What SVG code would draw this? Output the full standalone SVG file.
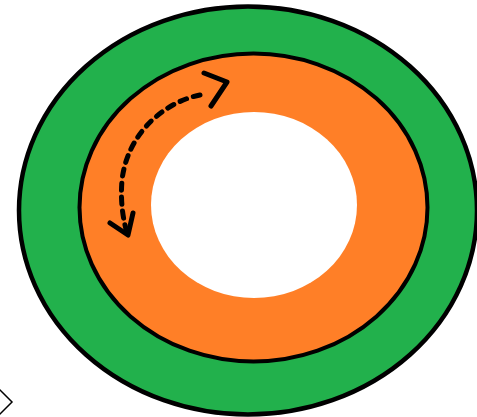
<svg xmlns="http://www.w3.org/2000/svg" width="477" height="417" viewBox="0 0 477 417">
<style>
.ring{stroke:#000;}
.arr{fill:none;stroke:#000;stroke-width:5;stroke-linecap:round;stroke-linejoin:round;}
</style>
<rect width="477" height="417" fill="#fff"/>
<g id="outer"><ellipse cx="248" cy="210.5" rx="229" ry="204" fill="#22b14c" class="ring" stroke-width="4.5"/></g>
<g id="middle"><ellipse cx="253.5" cy="207.5" rx="174" ry="154" fill="#ff7f27" class="ring" stroke-width="4"/></g>
<g id="inner"><ellipse cx="254" cy="205" rx="103" ry="93" fill="#fff"/></g>
<g id="marker-shape"><polygon points="0,390 12,402 0,414 -12,402" fill="#fff" stroke="#000" stroke-width="1.5"/></g>
<g id="connectors">
<path class="arr" d="M200,95 C168,101 128,130 122,180 C120,205 124,222 127,233" stroke-dasharray="7,7"/>
<path class="arr" d="M204,73 L227,82 L211,106"/>
<path class="arr" d="M110,223 L128,235 L133,213"/>
</g>
</svg>
